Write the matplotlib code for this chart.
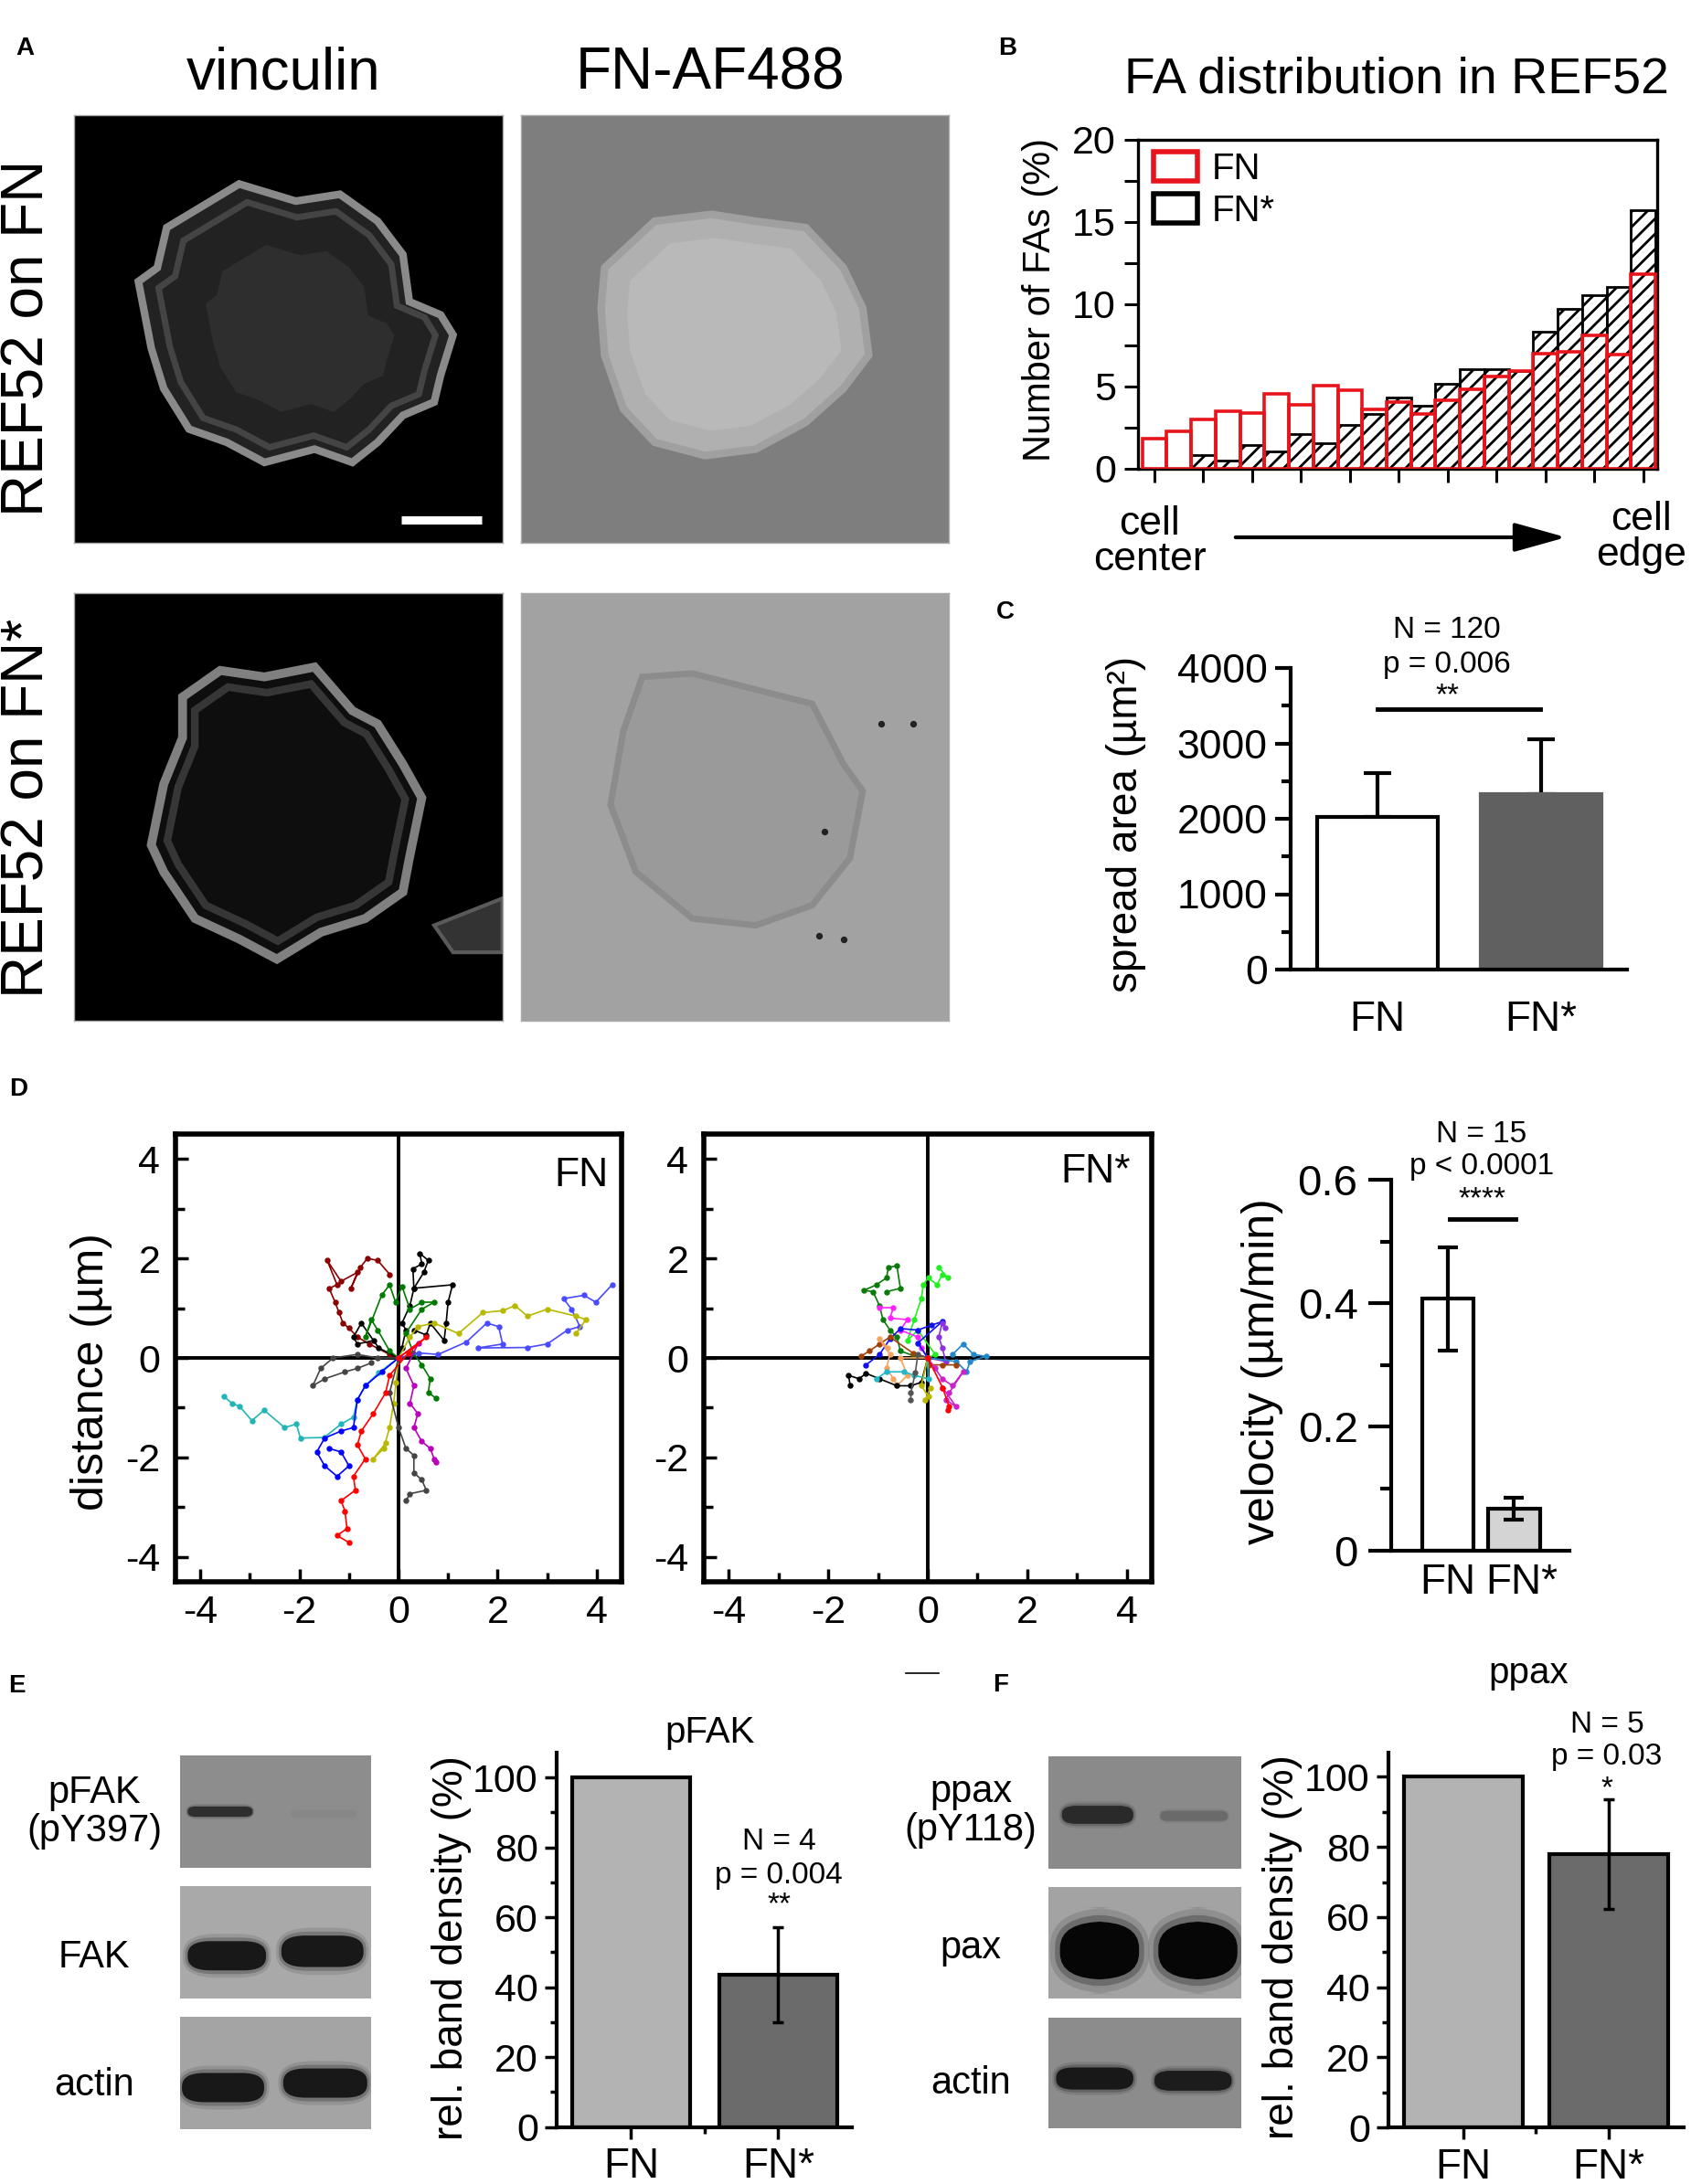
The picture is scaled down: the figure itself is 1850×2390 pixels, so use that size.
import numpy as np
import matplotlib
matplotlib.use('Agg')
import matplotlib.pyplot as plt
from matplotlib.patches import Polygon, Patch, FancyBboxPatch
from matplotlib.lines import Line2D

# ---------------- data ----------------
# Panel B: FA distribution (21 radial bins, cell center -> cell edge)
fa_bins = np.arange(21)
fa_fn = [1.85, 2.28, 3.02, 3.51, 3.38, 4.57, 3.87, 5.04, 4.79, 3.62, 4.04,
         3.34, 4.19, 4.83, 5.62, 5.96, 7.02, 7.13, 8.13, 6.96, 11.83]
fa_fnstar = [0.0, 0.0, 0.85, 0.51, 1.47, 1.04, 2.11, 1.57, 2.64, 3.34, 4.36,
             3.81, 5.15, 6.06, 6.06, 5.96, 8.34, 9.72, 10.57, 11.06, 15.74]

# Panel C: spread area
groups = ['FN', 'FN*']
spread_mean = [2020, 2330]
spread_err = [592, 730]

# Panel D: velocity
vel_mean = [0.407, 0.067]
vel_err = [0.083, 0.018]

# Panel E / F: relative band density
pfak_mean = [100, 43.5]
pfak_err = [0, 13.5]
ppax_mean = [100, 78.0]
ppax_err = [0, 15.6]

# Panel D: trajectories on FN (x, y in um)
tracks_fn = [
    ('#8b0000', [(0, 0), (-0.18, 0.07), (-0.59, 0.28), (-0.83, 0.42), (-1.0, 0.6), (-1.12, 0.70), (-1.2, 0.91),
                 (-1.28, 1.12), (-1.40, 1.40), (-1.24, 1.47), (-1.44, 1.96), (-1.16, 1.54), (-0.83, 1.72),
                 (-0.96, 1.40), (-0.77, 1.82), (-0.63, 2.0), (-0.42, 1.96), (-0.18, 1.68)]),
    ('#000000', [(0, 0), (0.07, 0.21), (0.15, 0.56), (0.07, 0.70), (0.23, 1.05), (0.31, 1.40), (0.29, 1.79),
                 (0.47, 1.89), (0.43, 2.10), (0.60, 1.96), (0.51, 1.72), (0.31, 1.40), (1.09, 1.47), (1.00, 1.12),
                 (0.96, 0.70), (0.92, 0.35), (0.64, 0.70), (0.56, 0.46), (0.31, 0.56)]),
    ('#000000', [(0, 0), (-0.40, 0.20), (-0.75, 0.70), (-0.91, 0.42), (-0.83, 0.28), (-0.50, 0.35)]),
    ('#007a00', [(0, 0), (-0.18, 0.14), (-0.42, 0.56), (-0.55, 0.77), (-0.67, 0.42), (-0.34, 1.26), (-0.18, 1.47),
                 (-0.06, 1.12), (0.07, 1.44), (0.23, 0.98), (0.47, 1.12), (0.72, 1.12), (0.47, 0.98), (0.15, 0.50),
                 (0.30, 0.10), (0.47, -0.14), (0.64, -0.42), (0.60, -0.70), (0.76, -0.81)]),
    ('#4a4aff', [(0, 0), (0.40, 0.10), (0.80, 0.07), (1.37, 0.32), (1.78, 0.70), (2.02, 0.63), (2.10, 0.28),
                 (1.60, 0.20), (2.60, 0.21), (3.00, 0.28), (3.41, 0.56), (3.66, 0.63), (3.49, 0.98), (3.33, 1.19),
                 (3.74, 1.26), (3.98, 1.12), (4.31, 1.47)]),
    ('#b8b800', [(0, 0), (0.23, 0.42), (0.39, 0.63), (0.72, 0.70), (1.21, 0.49), (1.70, 0.91), (2.10, 0.95),
                 (2.35, 1.05), (2.60, 0.84), (3.00, 0.98), (3.58, 0.84), (3.78, 0.77), (3.58, 0.49)]),
    ('#b8b800', [(0, 0), (-0.05, -0.50), (-0.10, -0.91), (-0.18, -1.40), (-0.30, -1.82), (-0.51, -2.03),
                 (-0.25, -1.70)]),
    ('#444444', [(0, 0), (-0.42, 0.0), (-0.83, 0.07), (-1.32, 0.0), (-1.57, -0.21), (-1.73, -0.56), (-1.49, -0.42),
                 (-1.08, -0.28), (-0.83, -0.21), (-0.55, -0.10)]),
    ('#444444', [(0, 0), (-0.18, -0.70), (0.0, -1.40), (0.15, -1.82), (0.31, -1.96), (0.31, -2.31), (0.47, -2.45),
                 (0.56, -2.66), (0.23, -2.73), (0.15, -2.87)]),
    ('#22b5b5', [(0, 0), (-0.40, -0.30), (-0.67, -0.56), (-0.83, -0.84), (-0.91, -1.19), (-1.16, -1.33),
                 (-1.50, -1.60), (-1.98, -1.61), (-2.06, -1.33), (-2.30, -1.40), (-2.71, -1.05), (-2.96, -1.26),
                 (-3.20, -0.98), (-3.36, -0.91), (-3.53, -0.77)]),
    ('#0000ff', [(0, 0), (-0.34, -0.28), (-0.67, -0.56), (-0.83, -0.84), (-0.91, -1.40), (-1.16, -1.47),
                 (-1.49, -1.61), (-1.65, -1.89), (-1.49, -2.17), (-1.24, -2.38), (-1.0, -2.17), (-1.16, -1.89),
                 (-1.40, -1.82)]),
    ('#bb00bb', [(0, 0), (0.40, 0.30), (0.15, -0.21), (0.31, -0.56), (0.23, -0.91), (0.39, -1.12), (0.31, -1.40),
                 (0.47, -1.68), (0.64, -1.82), (0.72, -2.03), (0.76, -2.10)]),
    ('#ff0000', [(0, 0), (0.56, 0.42), (0.20, 0.10), (-0.18, -0.35), (-0.26, -0.70), (-0.51, -1.12), (-0.75, -1.47),
                 (-0.83, -1.75), (-0.67, -2.03), (-0.91, -2.38), (-0.87, -2.66), (-1.16, -2.87), (-1.08, -3.08),
                 (-1.04, -3.43), (-1.24, -3.57), (-1.0, -3.71)]),
]

# Panel D: trajectories on FN*
tracks_fnstar = [
    ('#0a7a0a', [(0, 0), (-0.30, 0.05), (-0.55, 0.14), (-0.62, 0.42), (-0.76, 0.56), (-0.90, 0.77), (-0.97, 1.05),
                 (-1.10, 1.33), (-1.28, 1.36), (-1.03, 1.47), (-0.83, 1.61), (-0.79, 1.82), (-0.62, 1.85),
                 (-0.55, 1.40), (-0.83, 1.33)]),
    ('#22ee22', [(0, 0), (0.15, 0.07), (-0.20, 0.56), (-0.41, 0.35), (-0.27, 0.77), (-0.13, 1.19), (-0.09, 1.47),
                 (0.01, 1.61), (0.19, 1.47), (0.29, 1.68), (0.40, 1.61), (0.22, 1.82)]),
    ('#ff22ff', [(0, 0), (-0.13, 0.21), (-0.20, 0.42), (-0.55, 0.56), (-0.41, 0.77), (-0.76, 0.80), (-0.69, 1.01),
                 (-0.97, 1.01)]),
    ('#1010ee', [(0, 0), (-0.20, 0.30), (0.29, 0.73), (0.08, 0.66), (-0.20, 0.56), (-0.55, 0.59), (-0.76, 0.38),
                 (-0.97, 0.07), (-1.24, -0.14)]),
    ('#8833dd', [(0, 0), (0.36, -0.07), (0.29, 0.21), (0.22, 0.42), (0.29, 0.70), (0.35, 0.60)]),
    ('#2288cc', [(0, 0), (0.57, -0.07), (0.78, -0.28), (0.85, -0.07), (1.17, 0.03), (0.92, 0.07), (0.71, 0.28),
                 (0.50, 0.07)]),
    ('#a0400a', [(-1.35, 0.03), (-1.17, 0.14), (-0.97, 0.28), (-0.76, 0.42), (-0.30, 0.10), (0, 0), (0.01, -0.14),
                 (0.29, -0.14), (0.57, -0.14)]),
    ('#f4a460', [(0, 0), (-0.55, 0.0), (-0.41, -0.35), (-0.62, -0.56), (-0.69, -0.42), (-0.83, -0.21),
                 (-0.76, 0.07), (-0.97, 0.38), (-0.80, 0.20)]),
    ('#000000', [(0, 0), (-0.13, -0.49), (-0.34, -0.56), (-0.62, -0.56), (-0.97, -0.42), (-1.24, -0.31),
                 (-1.38, -0.42), (-1.59, -0.35), (-1.56, -0.56)]),
    ('#20b8c8', [(0, 0), (0.01, -0.42), (-0.27, -0.35), (-0.48, -0.28), (-0.83, -0.28), (-1.03, -0.42)]),
    ('#b8b800', [(0, 0), (-0.13, -0.56), (0.01, -0.77), (-0.05, -0.85), (0.05, -0.60)]),
    ('#555555', [(0, 0), (-0.20, 0.07), (-0.25, -0.30), (-0.34, -0.70), (-0.34, -0.84)]),
    ('#cc22cc', [(0, 0), (0.15, -0.21), (0.29, -0.42), (0.50, -0.56), (0.71, -0.28), (0.43, -0.70), (0.36, -0.84),
                 (0.57, -0.98), (0.30, -0.60)]),
    ('#ff0000', [(0, 0), (0.30, -0.60), (0.43, -0.98), (0.40, -1.05)]),
]

# Panel A: cell outlines (image fractions, y from top)
cell_vinc_fn = [(0.217, 0.263), (0.386, 0.161), (0.518, 0.201), (0.621, 0.185), (0.709, 0.248), (0.768, 0.326),
                (0.783, 0.436), (0.856, 0.467), (0.885, 0.514), (0.856, 0.608), (0.841, 0.671), (0.768, 0.702),
                (0.709, 0.765), (0.650, 0.812), (0.562, 0.781), (0.445, 0.812), (0.357, 0.765), (0.269, 0.734),
                (0.210, 0.639), (0.181, 0.545), (0.151, 0.389), (0.195, 0.357)]
cell_vinc_fnstar = [(0.254, 0.243), (0.342, 0.181), (0.445, 0.196), (0.562, 0.173), (0.650, 0.275), (0.709, 0.306),
                    (0.768, 0.400), (0.812, 0.479), (0.783, 0.620), (0.768, 0.699), (0.680, 0.761), (0.577, 0.793),
                    (0.474, 0.856), (0.386, 0.809), (0.283, 0.761), (0.210, 0.652), (0.181, 0.589), (0.210, 0.447),
                    (0.254, 0.338)]
cell_fragment = [(0.841, 0.777), (1.0, 0.714), (1.0, 0.840), (0.885, 0.840)]
cell_af_fn = [(0.196, 0.357), (0.313, 0.248), (0.446, 0.232), (0.549, 0.248), (0.666, 0.263), (0.754, 0.357),
              (0.799, 0.451), (0.813, 0.561), (0.754, 0.639), (0.666, 0.718), (0.549, 0.781), (0.431, 0.796),
              (0.313, 0.765), (0.240, 0.687), (0.196, 0.561), (0.188, 0.451)]
cell_af_fnstar = [(0.284, 0.196), (0.401, 0.188), (0.681, 0.259), (0.754, 0.400), (0.799, 0.463), (0.769, 0.620),
                  (0.681, 0.730), (0.549, 0.777), (0.401, 0.761), (0.269, 0.652), (0.210, 0.495), (0.240, 0.322)]
specks_x = [0.843, 0.916, 0.710, 0.696, 0.754]
specks_y = [0.306, 0.306, 0.557, 0.801, 0.809]

# ---------------- figure ----------------
plt.rcParams['font.family'] = ['Liberation Sans', 'DejaVu Sans']
plt.rcParams['hatch.linewidth'] = 2.0
plt.rcParams['axes.unicode_minus'] = False

W, H = 1850, 2390
fig = plt.figure(figsize=(W / 100, H / 100), dpi=100)
fig.patch.set_facecolor('white')


def add_ax(l, t, r, b):
    return fig.add_axes([l / W, 1 - b / H, (r - l) / W, (b - t) / H])


def ftext(x, y, s, size, **kw):
    kw.setdefault('ha', 'center')
    kw.setdefault('va', 'center')
    return fig.text(x / W, 1 - y / H, s, fontsize=size, **kw)


# panel letters
for lab, x, y in [('A', 27, 53), ('B', 1102, 53), ('C', 1100, 670), ('D', 20, 1192), ('E', 18, 1845),
                  ('F', 1095, 1844)]:
    ftext(x, y, lab, 20, fontweight='bold')

# ---------------- Panel A ----------------
ftext(310, 80, 'vinculin', 46)
ftext(777, 80, 'FN-AF488', 46)
ftext(31, 370, 'REF52 on FN', 46, rotation=90)
ftext(31, 884, 'REF52 on FN*', 46, rotation=90)


def img_ax(l, t, r, b, bg):
    ax = add_ax(l, t, r, b)
    ax.set_xlim(0, 1)
    ax.set_ylim(1, 0)
    ax.set_facecolor(bg)
    ax.set_xticks([])
    ax.set_yticks([])
    for s in ax.spines.values():
        s.set_color('#aaaaaa')
        s.set_linewidth(1)
    return ax


def shrink(pts, f):
    a = np.array(pts)
    c = a.mean(axis=0)
    return c + (a - c) * f


ax = img_ax(80.6, 126, 549.6, 594, '#000000')
ax.add_patch(Polygon(cell_vinc_fn, closed=True, fc='#222222', ec='#8a8a8a', lw=6))
ax.add_patch(Polygon(shrink(cell_vinc_fn, 0.88), closed=True, fc='none', ec='#444444', lw=5))
ax.add_patch(Polygon(shrink(cell_vinc_fn, 0.6), closed=True, fc='#2e2e2e', ec='none'))
ax.plot([0.764, 0.952], [0.947, 0.947], color='white', lw=6.5, solid_capstyle='butt')

ax = img_ax(569.6, 126, 1038, 594, '#7e7e7e')
ax.add_patch(Polygon(cell_af_fn, closed=True, fc='#b0b0b0', ec='#a0a0a0', lw=6))
ax.add_patch(Polygon(shrink(cell_af_fn, 0.8), closed=True, fc='#b9b9b9', ec='none'))

ax = img_ax(80.6, 649, 549.6, 1117, '#000000')
ax.add_patch(Polygon(cell_vinc_fnstar, closed=True, fc='#0e0e0e', ec='#808080', lw=7))
ax.add_patch(Polygon(shrink(cell_vinc_fnstar, 0.88), closed=True, fc='none', ec='#363636', lw=6))
ax.add_patch(Polygon(cell_fragment, closed=True, fc='#333333', ec='#5a5a5a', lw=3))

ax = img_ax(569.6, 649, 1038, 1117, '#a2a2a2')
ax.add_patch(Polygon(cell_af_fnstar, closed=True, fc='#9a9a9a', ec='#8c8c8c', lw=5))
ax.scatter(specks_x, specks_y, s=18, color='#222222', zorder=3)

# ---------------- Panel B ----------------
axB = add_ax(1244.5, 153, 1813, 513)
axB.bar(fa_bins, fa_fnstar, width=1.0, facecolor='white', edgecolor='black', hatch='//',
        linewidth=2.0, zorder=2)
axB.bar(fa_bins, fa_fn, width=1.0, facecolor='none', edgecolor='#e8141b', linewidth=2.6, zorder=3)
axB.set_xlim(-0.69, 20.57)
axB.set_ylim(0, 20)
axB.set_yticks([0, 5, 10, 15, 20])
axB.set_yticks(np.arange(0, 20.1, 2.5), minor=True)
axB.set_xticks(fa_bins[::2])
axB.set_xticklabels([])
axB.tick_params(axis='y', which='both', direction='out', length=11, width=2.2, labelsize=31, pad=6)
axB.tick_params(axis='x', direction='out', length=11, width=2.2)
for s in axB.spines.values():
    s.set_linewidth(2.4)
handles = [Patch(facecolor='white', edgecolor='#e8141b', linewidth=4, label='FN'),
           Patch(facecolor='white', edgecolor='black', linewidth=4, label='FN*')]
axB.legend(handles=handles, loc='upper left', bbox_to_anchor=(0.03, 0.965), frameon=False, fontsize=29,
           handlelength=1.2, handleheight=0.85, handletextpad=0.4, labelspacing=0.2, borderpad=0,
           borderaxespad=0)
ftext(1528, 88, 'FA distribution in REF52', 40)
ftext(1138, 328, 'Number of FAs (%)', 30, rotation=90)
ftext(1258, 593, 'cell\ncenter', 32, linespacing=0.95)
ftext(1796, 588, 'cell\nedge', 32, linespacing=0.95)
fig.add_artist(matplotlib.patches.FancyArrowPatch(
    (1349 / W, 1 - 588 / H), (1716 / W, 1 - 588 / H), transform=fig.transFigure,
    arrowstyle='-|>,head_length=1.0,head_width=0.28', mutation_scale=35, lw=3, color='black'))

# ---------------- Panel C ----------------
axC = add_ax(1411.5, 731, 1780, 1061)
xC = [0, 1]
axC.bar(xC, spread_mean, width=0.737, color=['white', '#606060'], edgecolor=['black', '#606060'],
        linewidth=3, zorder=2)
axC.errorbar(xC, spread_mean, yerr=[[0, 0], spread_err], fmt='none', ecolor='black', elinewidth=3,
             capsize=11, capthick=3, zorder=1)
axC.set_xlim(-0.532, 1.525)
axC.set_ylim(0, 4000)
axC.set_yticks([0, 1000, 2000, 3000, 4000])
axC.set_yticks(np.arange(500, 4000, 1000), minor=True)
axC.set_xticks(xC)
axC.set_xticklabels(groups)
axC.tick_params(axis='y', which='major', direction='out', length=12, width=3, labelsize=32, pad=6)
axC.tick_params(axis='y', which='minor', direction='out', length=7, width=3)
axC.tick_params(axis='x', length=0, labelsize=33, pad=24)
for k in ['top', 'right']:
    axC.spines[k].set_visible(False)
for k in ['left', 'bottom']:
    axC.spines[k].set_linewidth(3)
axC.plot([0, 0.995], [3457, 3457], color='black', lw=3.5, clip_on=False)
ftext(1232, 902, 'spread area (µm²)', 33, rotation=90)
ftext(1583, 690, 'N = 120', 24)
ftext(1583, 728, 'p = 0.006', 24)
ftext(1583, 762, '**', 24)

# ---------------- Panel D: trajectories ----------------


def traj_ax(l, t, r, b, tracks, label, lx, ly):
    ax = add_ax(l, t, r, b)
    ax.axhline(0, color='black', lw=2.8, zorder=1)
    ax.axvline(0, color='black', lw=2.8, zorder=1)
    for col, pts in tracks:
        a = np.array(pts)
        ax.plot(a[:, 0], a[:, 1], '-o', color=col, lw=1.2, ms=3.6, mec=col, zorder=2)
    ax.set_xlim(-4.5, 4.5)
    ax.set_ylim(-4.5, 4.5)
    ax.set_xticks([-4, -2, 0, 2, 4])
    ax.set_yticks([-4, -2, 0, 2, 4])
    ax.set_xticks([-3, -1, 1, 3], minor=True)
    ax.set_yticks([-3, -1, 1, 3], minor=True)
    ax.tick_params(which='major', direction='in', length=10, width=2.5, labelsize=31)
    ax.tick_params(which='minor', direction='in', length=7, width=2.5)
    ax.tick_params(axis='y', pad=12)
    ax.tick_params(axis='x', pad=10)
    for s in ax.spines.values():
        s.set_linewidth(4)
    ftext(lx, ly, label, 32)
    return ax


traj_ax(192, 1241, 680, 1731, tracks_fn, 'FN', 636, 1287)
traj_ax(770, 1241, 1260, 1731, tracks_fnstar, 'FN*', 1199, 1283)
ftext(100, 1501, 'distance (µm)', 36, rotation=90)

# ---------------- Panel D: velocity ----------------
axV = add_ax(1521.7, 1291, 1717.4, 1696.6)
axV.bar([0, 1], vel_mean, width=0.78, color=['white', '#d4d4d4'], edgecolor='black', linewidth=3, zorder=2)
axV.errorbar([0, 1], vel_mean, yerr=vel_err, fmt='none', ecolor='black', elinewidth=3, capsize=8,
             capthick=3, zorder=3)
axV.set_xlim(-0.863, 1.844)
axV.set_ylim(0, 0.6)
axV.set_yticks([0, 0.2, 0.4, 0.6])
axV.set_yticklabels(['0', '0.2', '0.4', '0.6'])
axV.set_yticks([0.1, 0.3, 0.5], minor=True)
axV.set_xticks([0, 1.12])
axV.set_xticklabels(groups)
axV.tick_params(axis='y', which='major', direction='out', length=18, width=3, labelsize=34, pad=8)
axV.tick_params(axis='y', which='minor', direction='out', length=9, width=3)
axV.tick_params(axis='x', length=0, labelsize=33, pad=10)
for k in ['top', 'right']:
    axV.spines[k].set_visible(False)
for k in ['left', 'bottom']:
    axV.spines[k].set_linewidth(3)
axV.plot([0.03, 1.02], [0.536, 0.536], color='black', lw=3.5, clip_on=False)
ftext(1381, 1501, 'velocity (µm/min)', 36, rotation=90)
ftext(1621, 1241, 'N = 15', 24)
ftext(1621, 1277, 'p < 0.0001', 24)
ftext(1621, 1313, '****', 24)

# ---------------- Panels E / F: blots ----------------


def blot(l, t, r, b, bg, bands):
    ax = add_ax(l, t, r, b)
    ax.set_xlim(0, 1)
    ax.set_ylim(1, 0)
    ax.set_facecolor(bg)
    ax.set_xticks([])
    ax.set_yticks([])
    for s in ax.spines.values():
        s.set_visible(False)
    for x0, x1, yc, h, col in bands:
        for grow, alpha in [(1.5, 0.12), (1.25, 0.25), (1.0, 1.0)]:
            hh = h * grow
            ww = (x1 - x0) + h * (grow - 1) * 0.4
            xc = (x0 + x1) / 2
            ax.add_patch(FancyBboxPatch((xc - ww / 2, yc - hh / 2), ww, hh,
                                        boxstyle='round,pad=0,rounding_size=%f' % (hh / 2.2),
                                        fc=col, ec='none', alpha=alpha))
    return ax


blot(197, 1921, 406, 2044, '#8d8d8d', [(0.04, 0.38, 0.50, 0.09, '#2e2e2e'), (0.58, 0.92, 0.52, 0.06, '#878787')])
blot(197, 2064, 406, 2187, '#a9a9a9', [(0.04, 0.45, 0.62, 0.26, '#181818'), (0.53, 0.96, 0.58, 0.28, '#181818')])
blot(197, 2207, 406, 2330, '#a4a4a4', [(0.01, 0.44, 0.63, 0.26, '#181818'), (0.54, 0.98, 0.59, 0.26, '#181818')])
ftext(103, 1983, 'pFAK\n(pY397)', 30, linespacing=1.05)
ftext(103, 2142, 'FAK', 30)
ftext(103, 2282, 'actin', 30)

blot(1147, 1922, 1358, 2045, '#8a8a8a', [(0.07, 0.44, 0.52, 0.16, '#2a2a2a'), (0.58, 0.93, 0.53, 0.09, '#6a6a6a')])
blot(1147, 2065, 1358, 2187, '#a3a3a3', [(0.06, 0.47, 0.57, 0.52, '#060606'), (0.57, 0.98, 0.57, 0.52, '#060606')])
blot(1147, 2208, 1358, 2329, '#8c8c8c', [(0.04, 0.44, 0.55, 0.20, '#181818'), (0.55, 0.95, 0.57, 0.18, '#1c1c1c')])
ftext(1062, 1982, 'ppax\n(pY118)', 30, linespacing=1.05)
ftext(1062, 2132, 'pax', 30)
ftext(1062, 2280, 'actin', 30)

fig.add_artist(Line2D([991 / W, 1027 / W], [1 - 1831 / H, 1 - 1831 / H], color='black', lw=1.2))


def density_ax(l, t, r, b, means, errs, xlim, ymax, width):
    ax = add_ax(l, t, r, b)
    ax.bar([0, 1], means, width=width, color=['#b3b3b3', '#6b6b6b'], edgecolor='black', linewidth=3, zorder=2)
    ax.errorbar([1], [means[1]], yerr=[errs[1]], fmt='none', ecolor='black', elinewidth=2.5, capsize=4,
                capthick=2.5, zorder=3)
    ax.set_xlim(*xlim)
    ax.set_ylim(0, ymax)
    ax.set_yticks([0, 20, 40, 60, 80, 100])
    ax.set_yticks([10, 30, 50, 70, 90], minor=True)
    ax.set_xticks([0, 1])
    ax.set_xticks([0.5], minor=True)
    ax.set_xticklabels(groups)
    ax.tick_params(axis='y', which='major', direction='out', length=9.5, width=2.5, labelsize=31, pad=5)
    ax.tick_params(axis='y', which='minor', direction='out', length=5, width=2.5)
    ax.tick_params(axis='x', which='major', direction='out', length=9.5, width=2.5, labelsize=33, pad=6)
    ax.tick_params(axis='x', which='minor', direction='out', length=5, width=2.5)
    for k in ['top', 'right']:
        ax.spines[k].set_visible(False)
    for k in ['left', 'bottom']:
        ax.spines[k].set_linewidth(3)
    return ax


density_ax(609, 1917.5, 932, 2327.5, pfak_mean, pfak_err, (-0.506, 1.5), 107.2, 0.806)
ftext(494, 2132, 'rel. band density (%)', 33, rotation=90)
ftext(777, 1896, 'pFAK', 29)
ftext(852, 2016, 'N = 4', 24)
ftext(852, 2053, 'p = 0.004', 24)
ftext(852, 2085, '**', 24)

density_ax(1519, 1918, 1842, 2328, ppax_mean, ppax_err, (-0.513, 1.516), 106.9, 0.815)
ftext(1403, 2131, 'rel. band density (%)', 33, rotation=90)
ftext(1672, 1831, 'ppax', 29)
ftext(1758, 1887, 'N = 5', 24)
ftext(1758, 1922, 'p = 0.03', 24)
ftext(1758, 1958, '*', 24)

fig.savefig('out.png', dpi=100, facecolor='white')
